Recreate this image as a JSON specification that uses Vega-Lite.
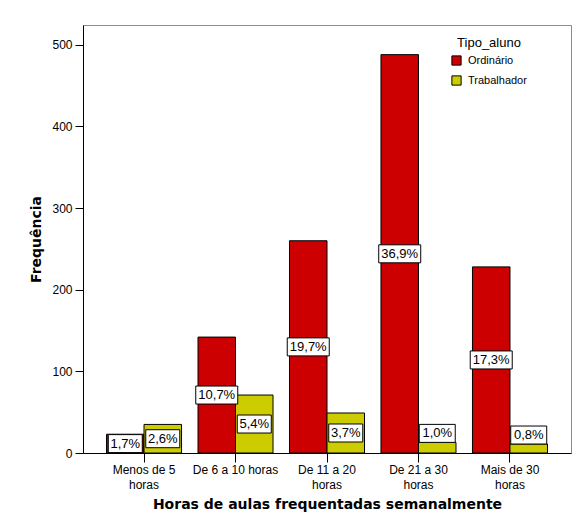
{
  "$schema": "https://vega.github.io/schema/vega-lite/v6.json",
  "autosize": "none",
  "width": 488,
  "height": 428,
  "padding": {"left": 83, "top": 25, "right": 8, "bottom": 68},
  "background": "white",
  "config": {
    "view": {"stroke": "#8c8c8c", "strokeWidth": 1},
    "font": "Liberation Sans",
    "axis": {"domainColor": "black", "tickColor": "black", "labelColor": "black", "titleColor": "black", "grid": false}
  },
  "data": {
    "values": [
      {"horas": "Menos de 5 horas", "tipo": "Ordinário", "n": 23, "pct": "1,7%"},
      {"horas": "Menos de 5 horas", "tipo": "Trabalhador", "n": 35, "pct": "2,6%"},
      {"horas": "De 6 a 10 horas", "tipo": "Ordinário", "n": 142, "pct": "10,7%"},
      {"horas": "De 6 a 10 horas", "tipo": "Trabalhador", "n": 71, "pct": "5,4%"},
      {"horas": "De 11 a 20 horas", "tipo": "Ordinário", "n": 260, "pct": "19,7%"},
      {"horas": "De 11 a 20 horas", "tipo": "Trabalhador", "n": 49, "pct": "3,7%"},
      {"horas": "De 21 a 30 horas", "tipo": "Ordinário", "n": 488, "pct": "36,9%"},
      {"horas": "De 21 a 30 horas", "tipo": "Trabalhador", "n": 13, "pct": "1,0%"},
      {"horas": "Mais de 30 horas", "tipo": "Ordinário", "n": 228, "pct": "17,3%"},
      {"horas": "Mais de 30 horas", "tipo": "Trabalhador", "n": 11, "pct": "0,8%"}
    ]
  },
  "encoding": {
    "x": {
      "field": "horas",
      "type": "nominal",
      "sort": ["Menos de 5 horas", "De 6 a 10 horas", "De 11 a 20 horas", "De 21 a 30 horas", "Mais de 30 horas"],
      "scale": {"paddingInner": 0.18, "paddingOuter": 0.257},
      "axis": {
        "title": "Horas de aulas frequentadas semanalmente",
        "titleFont": "DejaVu Sans",
        "titleFontSize": 14,
        "titleFontWeight": "bold",
        "titlePadding": 7,
        "labelAngle": 0,
        "labelFontSize": 12,
        "labelLineHeight": 15,
        "labelPadding": 2,
        "tickSize": 9,
        "labelExpr": "datum.label == 'Menos de 5 horas' ? ['Menos de 5', 'horas'] : datum.label == 'De 11 a 20 horas' ? ['De 11 a 20', 'horas'] : datum.label == 'De 21 a 30 horas' ? ['De 21 a 30', 'horas'] : datum.label == 'Mais de 30 horas' ? ['Mais de 30', 'horas'] : datum.label"
      }
    },
    "xOffset": {
      "field": "tipo",
      "type": "nominal",
      "sort": ["Ordinário", "Trabalhador"],
      "scale": {"paddingInner": 0, "paddingOuter": 0}
    }
  },
  "layer": [
    {
      "mark": {"type": "bar", "stroke": "black", "strokeWidth": 1, "opacity": 1},
      "encoding": {
        "y": {
          "field": "n",
          "type": "quantitative",
          "title": "Frequência",
          "scale": {"domain": [0, 524.3], "nice": false, "zero": true},
          "axis": {
            "values": [0, 100, 200, 300, 400, 500],
            "tickSize": 8,
            "labelFontSize": 12,
            "labelPadding": 3,
            "titleFont": "DejaVu Sans",
            "titleFontSize": 14,
            "titleFontWeight": "bold",
            "titlePadding": 8
          }
        },
        "color": {
          "field": "tipo",
          "type": "nominal",
          "sort": ["Ordinário", "Trabalhador"],
          "scale": {"domain": ["Ordinário", "Trabalhador"], "range": ["#cc0000", "#cccc00"]},
          "legend": {
            "title": "Tipo_aluno",
            "orient": "none",
            "legendX": 368,
            "legendY": 12,
            "titleFontSize": 13,
            "titleFontWeight": "normal",
            "titleAnchor": "middle",
            "titlePadding": 5,
            "labelFontSize": 11,
            "labelOffset": 6,
            "rowPadding": 5,
            "symbolType": "square",
            "symbolSize": 85,
            "symbolStrokeColor": "black",
            "symbolStrokeWidth": 1,
            "symbolOpacity": 1
          }
        }
      }
    },
    {
      "transform": [{"filter": "datum.n >= 16"}, {"calculate": "datum.n / 2", "as": "mid"}],
      "mark": {"type": "point", "filled": true, "fill": "white", "stroke": "black", "strokeWidth": 1, "strokeJoin": "miter", "opacity": 1, "size": 1764},
      "encoding": {
        "y": {"field": "mid", "type": "quantitative", "title": "Frequência"},
        "shape": {
          "condition": {"test": "length(datum.pct) > 4", "value": "M-1,-0.4286H1V0.4286H-1Z"},
          "value": "M-0.8095,-0.4286H0.8095V0.4286H-0.8095Z"
        }
      }
    },
    {
      "transform": [{"filter": "datum.n >= 16"}, {"calculate": "datum.n / 2", "as": "mid"}],
      "mark": {"type": "text", "font": "Liberation Sans", "fontSize": 13, "color": "black", "baseline": "middle", "align": "center"},
      "encoding": {
        "y": {"field": "mid", "type": "quantitative", "title": "Frequência"},
        "text": {"field": "pct"}
      }
    },
    {
      "transform": [{"filter": "datum.n < 16"}],
      "mark": {"type": "point", "filled": true, "fill": "white", "stroke": "black", "strokeWidth": 1, "strokeJoin": "miter", "opacity": 1, "size": 1764},
      "encoding": {
        "y": {"field": "n", "type": "quantitative", "title": "Frequência"},
        "shape": {"value": "M-0.8571,-0.8571H0.8571V0H-0.8571Z"}
      }
    },
    {
      "transform": [{"filter": "datum.n < 16"}],
      "mark": {"type": "text", "font": "Liberation Sans", "fontSize": 13, "color": "black", "baseline": "middle", "align": "center", "dy": -9},
      "encoding": {
        "y": {"field": "n", "type": "quantitative", "title": "Frequência"},
        "text": {"field": "pct"}
      }
    }
  ]
}
